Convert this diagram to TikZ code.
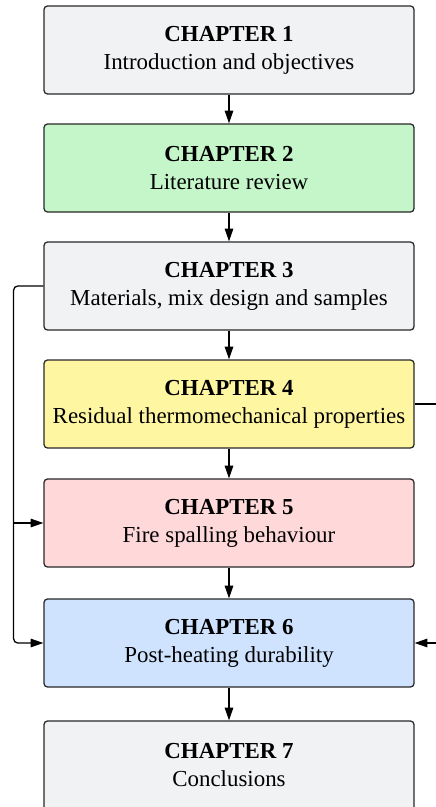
\documentclass[tikz,border=0pt]{standalone}
\usepackage{fontspec}
\setmainfont{Liberation Serif}
\usetikzlibrary{arrows.meta, positioning}
\definecolor{greycolor}{RGB}{241, 242, 244}
\definecolor{reviewcolor}{RGB}{197, 246, 202}
\definecolor{thermocolor}{RGB}{255, 246, 161}
\definecolor{spallcolor}{RGB}{255, 216, 218}
\definecolor{durabcolor}{RGB}{207, 227, 255}
\definecolor{edgecolor}{RGB}{40, 40, 40}

\begin{document}
\begin{tikzpicture}[
    >={Triangle[length=9pt, width=6pt]},
    chapter/.style={rectangle, rounded corners=2.5pt, draw=edgecolor, line width=0.9pt, minimum width=9.25cm, minimum height=2.2cm, align=center, font=\fontsize{16.3}{19.9}\selectfont},
    arrow/.style={->, line width=0.9pt, draw=black}
]
\useasboundingbox (0, 0) rectangle (10.875, -20.175);

% Chapters
\node[chapter, fill=greycolor] (ch1) at (5.725, -1.25) {\textbf{CHAPTER 1}\\Introduction and objectives};
\node[chapter, fill=reviewcolor] (ch2) at (5.725, -4.2) {\textbf{CHAPTER 2}\\Literature review};
\node[chapter, fill=greycolor] (ch3) at (5.725, -7.15) {\textbf{CHAPTER 3}\\Materials, mix design and samples};
\node[chapter, fill=thermocolor] (ch4) at (5.725, -10.1) {\textbf{CHAPTER 4}\\Residual thermomechanical properties};
\node[chapter, fill=spallcolor] (ch5) at (5.725, -13.075) {\textbf{CHAPTER 5}\\Fire spalling behaviour};
\node[chapter, fill=durabcolor] (ch6) at (5.725, -16.075) {\textbf{CHAPTER 6}\\Post-heating durability};
% last box runs off the page bottom
\node[chapter, fill=greycolor, minimum height=2.4cm, text depth=0.2cm] (ch7) at (5.725, -19.225) {\textbf{CHAPTER 7}\\Conclusions};

% Arrows
\draw[arrow] (ch1) -- (ch2);
\draw[arrow] (ch2) -- (ch3);
\draw[arrow] (ch3) -- (ch4);
\draw[arrow] (ch4) -- (ch5);
\draw[arrow] (ch5) -- (ch6);
\draw[arrow] (ch6) -- (ch7);

% Side links
\coordinate (lft) at (0.34, -7.15);
\coordinate (rgt) at (11.3, -10.1);
\draw[arrow, rounded corners=3pt] (ch3.west) -- (lft) |- (ch6.west);
\draw[arrow] (lft |- ch5.west) -- (ch5.west);
\draw[arrow] (ch4.east) -- (rgt) |- (ch6.east);

\end{tikzpicture}
\end{document}
